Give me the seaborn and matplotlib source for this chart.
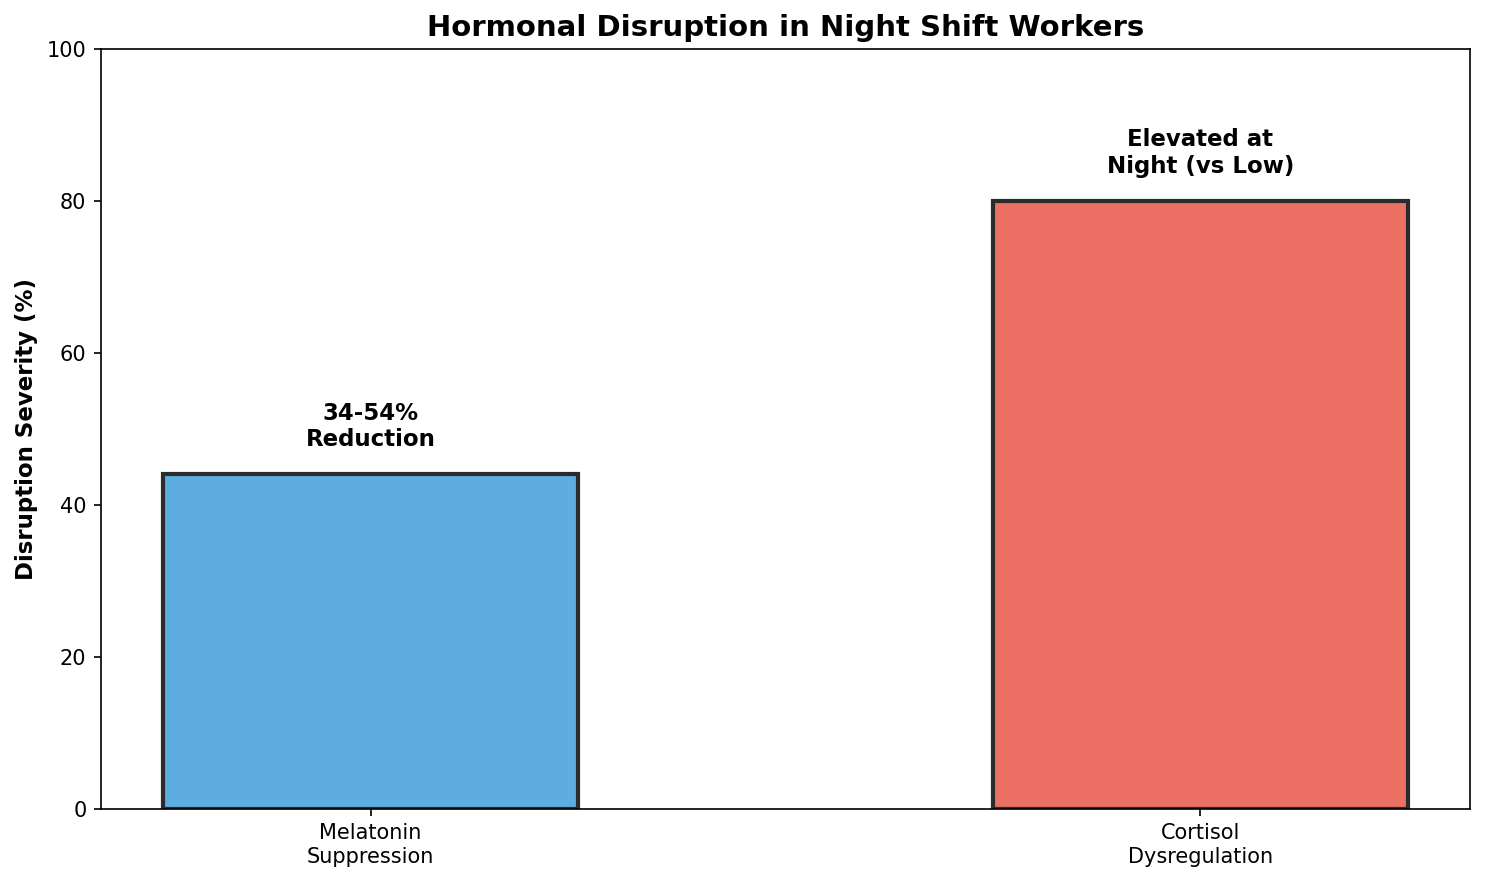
import pandas as pd
import matplotlib
matplotlib.use("Agg")
import matplotlib.pyplot as plt
import seaborn as sns

# Data
categories = ["Melatonin\nSuppression", "Cortisol\nDysregulation"]
severity = [44, 80]
labels = ["34-54%\nReduction", "Elevated at\nNight (vs Low)"]
colors = ["#5DADE2", "#EC7063"]

df = pd.DataFrame({"Hormone": categories, "Severity": severity})

fig, ax = plt.subplots(figsize=(9.9, 5.88), dpi=150)
fig.subplots_adjust(left=0.068, right=0.99, top=0.945, bottom=0.083)

sns.barplot(
    data=df,
    x="Hormone",
    y="Severity",
    hue="Hormone",
    palette=colors,
    width=0.5,
    edgecolor="#2b2b2b",
    linewidth=2,
    saturation=1,
    legend=False,
    ax=ax
)

# Annotations above bars
for i, (val, lab) in enumerate(zip(severity, labels)):
    ax.text(i, val + 3, lab, ha="center", va="bottom",
            fontsize=11, fontweight="bold")

ax.set_xlim(-0.325, 1.325)
ax.set_ylim(0, 100)
ax.set_xlabel("")
ax.set_ylabel("Disruption Severity (%)", fontsize=11, fontweight="bold")
ax.set_title("Hormonal Disruption in Night Shift Workers",
             fontsize=14, fontweight="bold")
ax.tick_params(labelsize=10)

plt.savefig("out.png", dpi=150)
